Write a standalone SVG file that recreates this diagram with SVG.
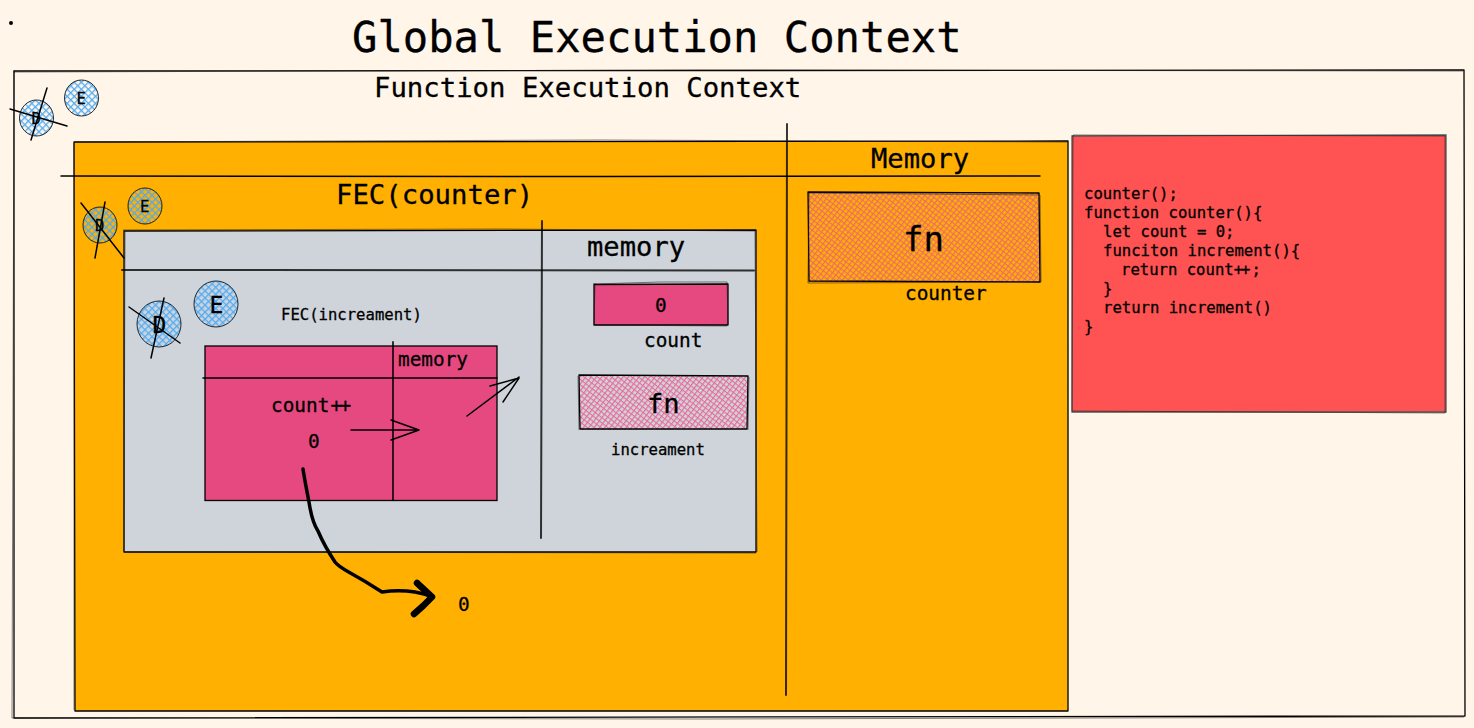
<svg xmlns="http://www.w3.org/2000/svg" width="1474" height="728" viewBox="0 0 1474 728">
<style>
text{font-family:"DejaVu Sans Mono","Liberation Mono",monospace;fill:#000;stroke:#000;stroke-width:.3}
.s{stroke:#000;stroke-width:1.3;stroke-linecap:round;stroke-linejoin:round}
.n{fill:none}
.g{fill:none;stroke:#1e1e1e;stroke-width:1;stroke-opacity:.55;stroke-linejoin:round}
.c{stroke:#000;stroke-opacity:.8;stroke-width:1}
.l{fill:none;stroke:#000;stroke-width:1.5;stroke-linecap:round;stroke-linejoin:round}
.lk{fill:none;stroke:#000;stroke-opacity:.78;stroke-width:2;stroke-linecap:round}
.t15{font-size:15.6px}.t19{font-size:19.4px}.t27{font-size:27.2px}
</style>
<defs>
<pattern id="blue" width="5" height="5" patternUnits="userSpaceOnUse" patternTransform="rotate(45)"><path d="M0 0H5M0 0V5" stroke="#4dabf7" stroke-width="2.6" fill="none"/></pattern>
<pattern id="pinkH" width="4.2" height="4.2" patternUnits="userSpaceOnUse" patternTransform="rotate(38)"><path d="M0 0H4.2M0 0V4.2" stroke="#ea6a9a" stroke-width="2.300" fill="none"/></pattern>
<pattern id="orangeH" width="4.2" height="4.2" patternUnits="userSpaceOnUse" patternTransform="rotate(38)"><path d="M0 0H4.2M0 0V4.2" stroke="#ea6a6c" stroke-width="2.300" fill="none"/></pattern>
</defs>
<rect width="1474" height="728" fill="#fff5e9"/>
<circle id="dot" cx="11" cy="23" r="2" fill="#000"/>
<g id="global-frame">
<path class="s n" d="M14 71 L1464 70 L1465 716 L14 718 Z"/>
<path class="g" d="M13 72 L700 70 L1463 71 M14 70 L13 400 L12 718 L700 719 L1464 717"/>
</g>
<text x="352" y="52" font-size="42.200">Global Execution Context</text>
<text class="t27" x="374" y="97" style="font-size:27.300px">Function Execution Context</text>
<g id="fec-outer">
<path d="M74 142 L1068 141 L1068 711 L75 711 Z" fill="#ffb000" class="s"/>
<path class="g" d="M75 142 L600 140 L1067 142 M74 143 L74 710"/>
<text class="t27" x="336" y="204" style="font-size:27.300px">FEC(counter)</text>
<text class="t27" x="871" y="168">Memory</text>
</g>
<g id="fec-counter">
<path d="M124 231 L756 230 L756 552 L124 552 Z" fill="#ced4da" class="s"/>
<path class="g" d="M123 230 L500 229 L755 231 L757 552 M125 232 L124 552 L756 553"/>
<text class="t27" x="587" y="256">memory</text>
<text class="t15" x="281" y="320">FEC(increament)</text>
</g>
<g id="fec-increament">
<rect x="205" y="346" width="292" height="154.500" fill="#e64980" stroke="#000" stroke-width="1.300"/>
<text class="t19" x="398" y="366">memory</text>
<text class="t19" x="271" y="412">count<tspan dx="1" letter-spacing="-2.500">++</tspan></text>
<text class="t19" x="308" y="448">0</text>
</g>
<g id="count-box">
<path d="M594 284.500 L728 284 L728 325 L594 325 Z" fill="#e64980" class="s"/>
<path class="g" d="M593 284 L660 282 L727 282 L728 324 M595 283 L594 325 L727 326"/>
<text class="t19" x="655" y="312">0</text>
<text class="t19" x="644" y="347">count</text>
</g>
<g id="increament-box">
<path d="M579 376 L748 376 L747 429 L580 430 Z" fill="url(#pinkH)"/>
<path class="s n" d="M579 375 L748 376 L747 429 L580 429 Z"/>
<path class="g" d="M578 376 L579 430 M749 377 L748 430"/>
<text x="647" y="413" font-size="27.200">fn</text>
<text class="t15" x="611" y="455">increament</text>
</g>
<g id="counter-box">
<path d="M808 192 L1040 193 L1040 282 L809 282 Z" fill="url(#orangeH)"/>
<path class="s n" d="M808 192 L1039 193 L1040 282 L809 281 Z"/>
<path class="g" d="M809 193 L1040 195 L1041 282 L808 283 Z"/>
<text x="903" y="251" font-size="34">fn</text>
<text class="t19" x="905" y="300">counter</text>
</g>
<g id="code-note">
<path d="M1072 136 L1446 135 L1446 412 L1072 412 Z" fill="#ff5252" stroke="#555" stroke-width="1.300"/>
<path class="g" d="M1073 135 L1445 136 L1445 413 L1072 411 Z"/>
<text class="t15" x="1084" y="199">counter();</text>
<text class="t15" x="1084" y="218">function counter(){</text>
<text class="t15" x="1103" y="237">let count = 0;</text>
<text class="t15" x="1103" y="256">funciton increment(){</text>
<text class="t15" x="1121" y="275">return count<tspan letter-spacing="-2">+</tspan><tspan letter-spacing="0">+</tspan><tspan dx="1">;</tspan></text>
<text class="t15" x="1103" y="294">}</text>
<text class="t15" x="1103" y="313">return increment()</text>
<text class="t15" x="1084" y="332">}</text>
</g>
<g id="circle-d1"><ellipse cx="36.500" cy="118" rx="17" ry="18" fill="url(#blue)" class="c"/><text class="t15" x="31.500" y="124">D</text></g>
<g id="circle-e1"><ellipse cx="81.500" cy="98" rx="17" ry="18" fill="url(#blue)" class="c"/><text class="t15" x="76.500" y="104">E</text></g>
<g id="circle-d2"><ellipse cx="100" cy="225" rx="17" ry="18" fill="url(#blue)" class="c"/><text class="t15" x="95" y="231">D</text></g>
<g id="circle-e2"><ellipse cx="145" cy="206" rx="17" ry="18" fill="url(#blue)" class="c"/><text class="t15" x="140" y="212">E</text></g>
<g id="circle-d3"><ellipse cx="159" cy="324" rx="22" ry="23" fill="url(#blue)" class="c"/><text x="152.500" y="333" font-size="23">D</text></g>
<g id="circle-e3"><ellipse cx="216" cy="304" rx="22" ry="23" fill="url(#blue)" class="c"/><text x="209.500" y="313" font-size="23">E</text></g>
<g id="connectors">
<path class="l" d="M61 176 L600 176.500 L1040 176"/>
<path class="lk" d="M787 124 L786 695"/>
<path class="lk" d="M122 270 L754 270.500"/>
<path class="lk" d="M542 221 L541 538"/>
<path class="l" d="M203 378 L497 378"/>
<path class="lk" d="M393 342 L393 500"/>
<path class="l" d="M351 430 L419 430 M391 420 L419 430 L391 440"/>
<path class="l" d="M467 416 L519 377 M490 386 L519 378 L503 402"/>
<path class="l" d="M10 109 L67 126 M47 88 L31 140"/>
<path class="l" d="M81 203 L124 258 M105 202 L95 258"/>
<path class="l" d="M129 307 L180 343 M164 298 L151 358"/>
<path d="M303 469 C305 482 307 492 309 502 C312 522 316 528 318 531 C324 545 331 556 335 562 C341 570 347 569 382 592 C395 590 410 589 431 596" fill="none" stroke="#000" stroke-width="3.500" stroke-linecap="round" stroke-linejoin="round"/>
<path d="M417 583 L432 597 L423 606 L414 614" fill="none" stroke="#000" stroke-width="6.500" stroke-linecap="round" stroke-linejoin="round"/>
</g>
<text class="t19" x="458" y="611">0</text>
</svg>
